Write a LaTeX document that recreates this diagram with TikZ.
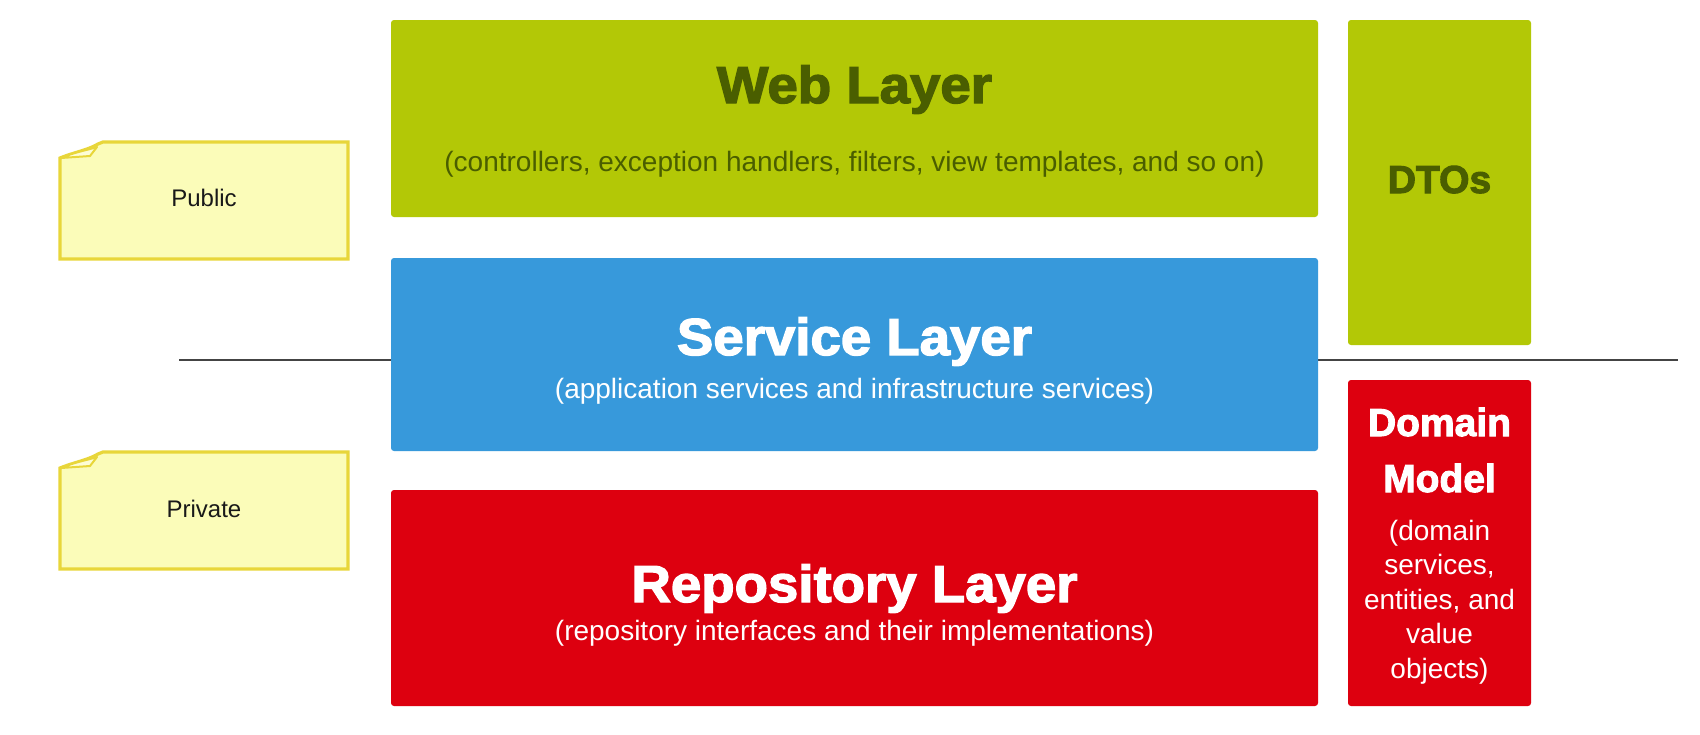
\documentclass[tikz,border=0pt]{standalone}
\usepackage{fontspec}
\setmainfont{Liberation Sans}[BoldFeatures={FakeBold=2.6}]
\definecolor{webgreen}{RGB}{179,200,6}
\definecolor{webtext}{RGB}{74,94,0}
\definecolor{svcblue}{RGB}{55,153,219}
\definecolor{repred}{RGB}{221,0,15}
\definecolor{notefill}{RGB}{251,252,185}
\definecolor{noteedge}{RGB}{232,214,58}
\definecolor{sepgray}{RGB}{68,68,68}
\tikzset{
  layerbox/.style={draw=none, rounded corners=3pt, inner sep=0pt},
  bigtitle/.style={anchor=base, inner sep=0pt, font=\bfseries\fontsize{52}{60}\selectfont\addfontfeature{FakeStretch=1.05}},
  subtitle/.style={anchor=base, inner sep=0pt, font=\fontsize{28}{32}\selectfont},
  sidetitle/.style={anchor=base, inner sep=0pt, font=\bfseries\fontsize{39}{46}\selectfont},
  notetext/.style={anchor=base, inner sep=0pt, font=\fontsize{24}{28}\selectfont, text=black!90},
  noteshape/.style={draw=noteedge, fill=notefill, line width=3.2pt, line join=miter},
  sepline/.style={draw=sepgray, line width=2pt}
}
\begin{document}
\begin{tikzpicture}[x=1pt, y=-1pt]
\useasboundingbox (0,0) rectangle (1700,734);
\fill[white] (0,0) rectangle (1700,734);
% separator line
\coordinate (l0) at (179,360);
\coordinate (l1) at (1678,360);
\draw[sepline] (l0) -- (l1);
% boxes
\node[layerbox, fill=webgreen, minimum width=927pt, minimum height=197pt] (web) at (854.5,118.5) {};
\node[layerbox, fill=svcblue, minimum width=927pt, minimum height=193pt] (svc) at (854.5,354.5) {};
\node[layerbox, fill=repred, minimum width=927pt, minimum height=216pt] (repo) at (854.5,598) {};
\node[layerbox, fill=webgreen, minimum width=183pt, minimum height=325pt] (dto) at (1439.5,182.5) {};
\node[layerbox, fill=repred, minimum width=183pt, minimum height=326pt] (dom) at (1439.5,543) {};
% texts
\node[bigtitle, text=webtext] (webT) at (854.5,103) {Web Layer};
\node[subtitle, text=webtext] (webS) at (854.5,171) {(controllers, exception handlers, filters, view templates, and so on)};
\node[bigtitle, text=white] (svcT) at (854.5,355) {Service Layer};
\node[subtitle, text=white] (svcS) at (854.5,398) {(application services and infrastructure services)};
\node[bigtitle, text=white] (repoT) at (854.5,602) {Repository Layer};
\node[subtitle, text=white] (repoS) at (854.5,640) {(repository interfaces and their implementations)};
\node[sidetitle, text=webtext] (dtoT) at (1439.5,193) {DTOs};
\node[sidetitle, text=white] (domT1) at (1439.5,436) {Domain};
\node[sidetitle, text=white] (domT2) at (1439.5,492) {Model};
\node[subtitle, text=white] (domS1) at (1439.5,540) {(domain};
\node[subtitle, text=white] (domS2) at (1439.5,574.5) {services,};
\node[subtitle, text=white] (domS3) at (1439.5,609) {entities, and};
\node[subtitle, text=white] (domS4) at (1439.5,643.5) {value};
\node[subtitle, text=white] (domS5) at (1439.5,678) {objects)};
% notes
\foreach \nm/\t in {pub/142, priv/452} {
  \draw[noteshape] (60,\t+117) -- (60,\t+16) .. controls (75,\t+10) and (88,\t+8) .. (98,\t+2) -- (103,\t) -- (348,\t) -- (348,\t+117) -- cycle;
  \draw[draw=noteedge, fill=notefill!60!white, line width=2pt, line join=round] (61,\t+16) -- (90,\t+14) -- (97,\t+5) .. controls (88,\t+8) and (75,\t+10) .. cycle;
}
\node[notetext] (pubT) at (204,206) {Public};
\node[notetext] (privT) at (204,517) {Private};
\end{tikzpicture}
\end{document}
